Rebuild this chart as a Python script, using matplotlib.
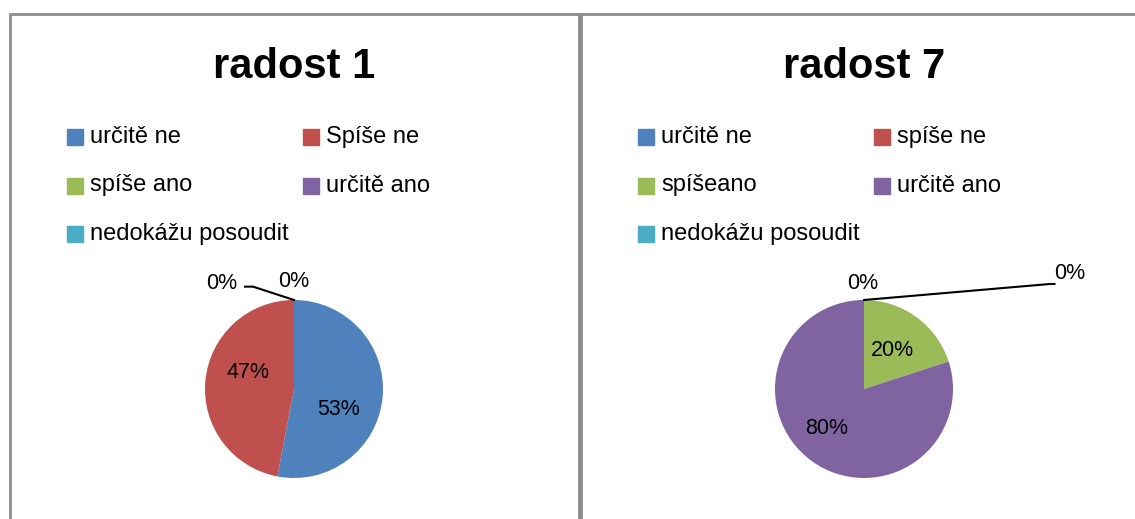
import matplotlib.pyplot as plt
from matplotlib.patches import Rectangle

W, H = 1135, 519

categories_1 = ['určitě ne', 'Spíše ne', 'spíše ano', 'určitě ano', 'nedokážu posoudit']
values_1 = [53, 47, 0, 0, 0]
categories_7 = ['určitě ne', 'spíše ne', 'spíšeano', 'určitě ano', 'nedokážu posoudit']
values_7 = [0, 0, 20, 80, 0]
colors = ['#4F81BD', '#C0504D', '#9BBB59', '#8064A2', '#4BACC6']

plt.rcParams['font.family'] = ['Liberation Sans', 'DejaVu Sans']

fig = plt.figure(figsize=(W / 100, H / 100), dpi=100)


def px(x, y, w, h):
    return [x / W, 1 - (y + h) / H, w / W, h / H]


def panel(x0, x1, title, cats, vals, pie_cx, zero_labels):
    # border of the chart area
    fig.patches.append(Rectangle((x0 / W, -0.1), (x1 - x0) / W, 1.1 - 14 / H,
                                 transform=fig.transFigure, fill=False,
                                 edgecolor='#8c8c8c', linewidth=2))
    fig.text(pie_cx / W, 1 - 78 / H, title, ha='center', va='baseline',
             fontsize=30, fontweight='bold')
    # legend, row-major in two columns
    for i, (c, col) in enumerate(zip(cats, colors)):
        lx = x0 + 57 + (i % 2) * 236
        ly = 137 + (i // 2) * 48.5
        fig.patches.append(Rectangle((lx / W, 1 - (ly + 8) / H), 16 / W, 16 / H,
                                     transform=fig.transFigure, color=col))
        fig.text((lx + 23) / W, 1 - ly / H, c, ha='left', va='center',
                 fontsize=17)
    # pie
    r = 89
    ax = fig.add_axes(px(pie_cx - r, 389 - r, 2 * r, 2 * r))
    nz = [v for v in vals if v > 0]
    nz_cols = [c for v, c in zip(vals, colors) if v > 0]
    wedges, texts, autotexts = ax.pie(nz, colors=nz_cols, startangle=90, counterclock=False,
                                      autopct='%.0f%%', pctdistance=0.62,
                                      textprops=dict(fontsize=15.5))
    ax.set_xlim(-1, 1)
    ax.set_ylim(-1, 1)
    ax.set_aspect('equal')
    for (tx, ty, line) in zero_labels:
        ax.text(tx, ty, '0%', ha='center', va='center', fontsize=15.5,
                clip_on=False)
        if line:
            ax.plot(line[0], line[1], color='black', linewidth=1.5, clip_on=False)
    return autotexts


at1 = panel(10, 579, 'radost 1', categories_1, values_1, 294,
            [(-0.81, 1.19, ([0, -0.46, -0.55], [1.0, 1.15, 1.15])),
             (0.0, 1.21, None)])
at1[0].set_position((0.50, -0.23))
at1[1].set_position((-0.52, 0.19))

at7 = panel(581, 1200, 'radost 7', categories_7, values_7, 864,
            [(-0.02, 1.19, None),
             (2.31, 1.30, ([0, 2.09, 2.14], [1.0, 1.18, 1.18]))])
at7[0].set_position((0.32, 0.43))
at7[1].set_position((-0.42, -0.44))

fig.savefig('out.png', dpi=100, facecolor='white')
